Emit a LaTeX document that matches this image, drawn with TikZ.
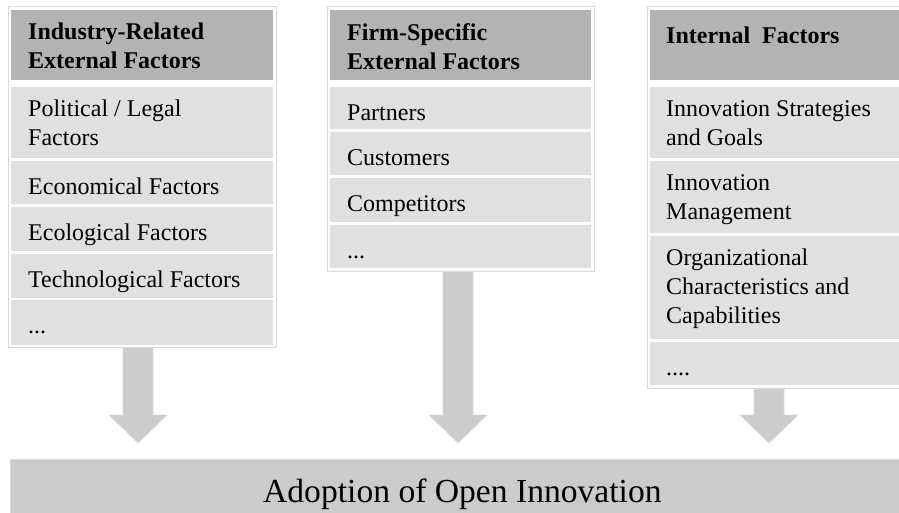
\documentclass[tikz,border=0pt]{standalone}
\usepackage{fontspec}
\setmainfont{Liberation Serif}
\usetikzlibrary{calc}

\definecolor{headfill}{HTML}{B3B3B3}
\definecolor{rowfill}{HTML}{E0E0E0}
\definecolor{frameline}{HTML}{D9D9D9}
\definecolor{arrowfill}{HTML}{CCCCCC}
\definecolor{arrowline}{HTML}{DBDBDB}
\definecolor{barfill}{HTML}{CBCBCB}

\tikzset{
  x=1bp, y=1bp,
  frame/.style={draw=frameline, line width=0.8bp, fill=white, inner sep=0,
    anchor=north west},
  cell/.style={inner sep=0, outer sep=0, anchor=north west, draw=none},
  headcell/.style={cell, fill=headfill},
  itemcell/.style={cell, fill=rowfill},
  celllabel/.style={inner sep=0, anchor=north west, align=left,
    font=\fontsize{24bp}{29bp}\selectfont, execute at begin node=\strut},
  headlabel/.style={celllabel, font=\fontsize{24bp}{29bp}\selectfont\bfseries},
  flowarr/.style={fill=arrowfill, draw=arrowline, line width=0.8bp},
  bar/.style={fill=barfill, draw=arrowline, line width=0.8bp, inner sep=0,
    anchor=north west, font=\fontsize{33.6bp}{40bp}\selectfont},
}

% a filled cell: style, name, left, top, width, height
\newcommand\factorcell[6]{%
  \node[#1, minimum width=#5bp, minimum height=#6bp] (#2) at (#3,-#4) {};}
% text of a cell, set from its top left corner
\newcommand\celltext[4][17]{%
  \node[#2] (#3-t) at ($(#3.north west)+(#1,-13)$) {#4};}
% broad downward arrow from a frame to the bar, tip at a named coordinate
\newcommand\flowarrow[2]{%
  \draw[flowarr] let \p1=(#1.south), \p2=(#2) in
    (\x2-15bp,\y1) -- (\x2-15bp,\y2+28bp) -- (\x2-29bp,\y2+28bp) --
    (\x2,\y2) -- (\x2+29bp,\y2+28bp) -- (\x2+15bp,\y2+28bp) --
    (\x2+15bp,\y1) -- cycle;}

\begin{document}
\begin{tikzpicture}
\useasboundingbox (0,0) rectangle (899,-513);
\clip (0,0) rectangle (899,-513);

% frames
\node[frame, minimum width=268bp, minimum height=341bp] (f1) at (8,-6) {};
\node[frame, minimum width=267bp, minimum height=265bp] (f2) at (327,-6) {};
\node[frame, minimum width=262bp, minimum height=382bp] (f3) at (647,-6) {};

% industry-related external factors
\factorcell{headcell}{h1}{11}{10}{262}{70}
\factorcell{itemcell}{a1}{11}{87}{262}{71}
\factorcell{itemcell}{a2}{11}{161}{262}{43.5}
\factorcell{itemcell}{a3}{11}{207.5}{262}{43.5}
\factorcell{itemcell}{a4}{11}{254}{262}{43.5}
\factorcell{itemcell}{a5}{11}{300.5}{262}{44}
\celltext{headlabel}{h1}{Industry-Related\\External Factors}
\celltext{celllabel}{a1}{Political / Legal\\Factors}
\celltext{celllabel}{a2}{Economical Factors}
\celltext{celllabel}{a3}{Ecological Factors}
\celltext{celllabel}{a4}{Technological Factors}
\celltext{celllabel}{a5}{...}

% firm-specific external factors
\factorcell{headcell}{h2}{330}{10}{261}{70}
\factorcell{itemcell}{b1}{330}{87}{261}{42}
\factorcell{itemcell}{b2}{330}{132}{261}{43}
\factorcell{itemcell}{b3}{330}{178}{261}{44}
\factorcell{itemcell}{b4}{330}{225}{261}{43}
\celltext{headlabel}{h2}{Firm-Specific\\External Factors}
\celltext{celllabel}{b1}{Partners}
\celltext{celllabel}{b2}{Customers}
\celltext{celllabel}{b3}{Competitors}
\celltext{celllabel}{b4}{...}

% internal factors
\factorcell{headcell}{h3}{650}{10}{256}{70}
\factorcell{itemcell}{c1}{650}{87}{256}{71}
\factorcell{itemcell}{c2}{650}{161}{256}{72}
\factorcell{itemcell}{c3}{650}{236}{256}{103}
\factorcell{itemcell}{c4}{650}{342}{256}{43}
\celltext[16]{headlabel}{h3}{Internal~~Factors}
\celltext[16]{celllabel}{c1}{Innovation Strategies\\and Goals}
\celltext[16]{celllabel}{c2}{Innovation\\Management}
\celltext[16]{celllabel}{c3}{Organizational\\Characteristics and\\Capabilities}
\celltext[16]{celllabel}{c4}{....}

% result bar
\node[bar, minimum width=904bp, minimum height=70bp] (adopt) at (10,-459)
  {Adoption of Open Innovation};

% arrows into the bar
\coordinate (tip1) at (138,-443);
\coordinate (tip2) at (458,-443);
\coordinate (tip3) at (769,-443);
\flowarrow{f1}{tip1}
\flowarrow{f2}{tip2}
\flowarrow{f3}{tip3}
\end{tikzpicture}
\end{document}
